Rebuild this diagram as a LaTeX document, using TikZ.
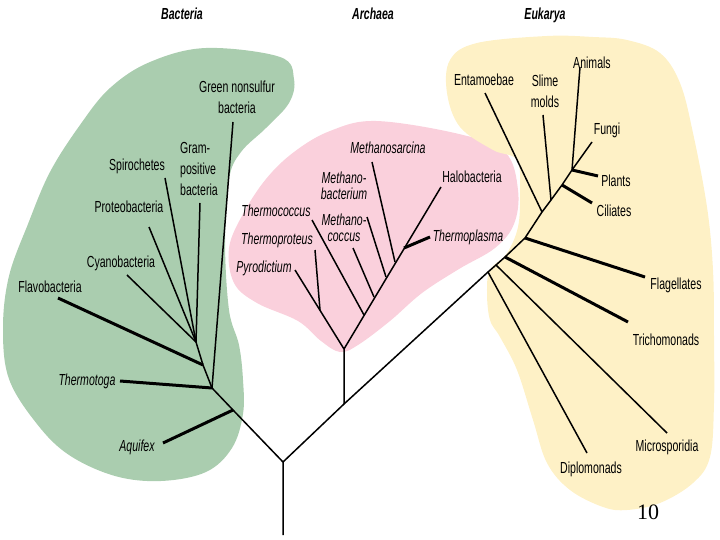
\documentclass[tikz,border=0pt]{standalone}
\usepackage{fontspec}
\setmainfont[FakeStretch=0.66]{Liberation Sans}
\newfontfamily\pagefont{Liberation Serif}
\definecolor{bacgreen}{RGB}{170,205,175}
\definecolor{arcpink}{RGB}{250,208,220}
\definecolor{eukyellow}{RGB}{254,241,198}

\begin{document}
\begin{tikzpicture}[x=1pt,y=-1pt,
    br/.style={line width=1.5pt},
    thk/.style={line width=3pt},
    lab/.style={font=\fontsize{16}{21}\selectfont,inner sep=0pt,align=center},
    itlab/.style={font=\fontsize{16}{16}\selectfont\itshape,inner sep=0pt,align=center},
    ttl/.style={font=\fontsize{16}{16}\selectfont\bfseries\itshape,inner sep=0pt}]

\useasboundingbox (0,0) rectangle (720,540);

% the three domains
\fill[bacgreen] plot[smooth cycle,tension=0.6] coordinates {(206,48) (280,57) (294,79) (289,103) (266,128) (241,152) (229,179) (225,241) (229,310) (239,345) (243,380) (243,414) (232,448) (206,472) (161,481) (115,476) (69,455) (37,424) (9,379) (3,328) (9,276) (28,224) (50,172) (80,125) (110,88) (150,62)};
\fill[arcpink] plot[smooth cycle,tension=0.6] coordinates {(376,121) (459,134) (505,152) (518,190) (514,224) (495,248) (459,269) (422,293) (390,321) (358,345) (340,352) (321,341) (298,321) (257,303) (234,283) (229,248) (243,214) (266,179) (294,152) (330,131)};
\fill[eukyellow] plot[smooth cycle,tension=0.6] coordinates {(547,36) (593,37) (627,40) (660,53) (680,83) (693,133) (707,207) (713,270) (714,337) (714,403) (710,457) (693,483) (660,503) (627,510) (603,507) (570,490) (547,463) (533,420) (517,370) (500,337) (490,320) (487,293) (490,270) (507,253) (518,227) (520,193) (517,160) (493,150) (460,127) (447,93) (450,60) (477,43)};

% titles
\node[ttl] (tbac) at (182,14) {Bacteria};
\node[ttl] (tarc) at (373,14) {Archaea};
\node[ttl] (teuk) at (545,15) {Eukarya};

% stem and inner branches
\coordinate (base) at (283,535);
\coordinate (root) at (283,462);
\coordinate (b1) at (233,410);
\coordinate (b2) at (212,388);
\coordinate (b3) at (203,365);
\coordinate (b4) at (196,342);
\coordinate (a0) at (344,404);
\coordinate (a1) at (344,349);
\coordinate (a2) at (320,310);
\coordinate (a3) at (364,315);
\coordinate (a4) at (374,297);
\coordinate (a5) at (386,277);
\coordinate (a6) at (395,262);
\coordinate (a7) at (404,248);
\coordinate (e1) at (488,272);
\coordinate (e2) at (496,265);
\coordinate (e3) at (505,257);
\coordinate (e4) at (525,238);
\coordinate (e5) at (542,212);
\coordinate (e6) at (551,200);
\coordinate (e7) at (562,185);
\coordinate (e8) at (572,170);

% branch tips
\coordinate (aquifex) at (163,443);
\coordinate (thermotoga) at (120,381);
\coordinate (flavo) at (58,298);
\coordinate (cyano) at (127,275);
\coordinate (proteo) at (149,227);
\coordinate (spiro) at (165,178);
\coordinate (gram) at (200,203);
\coordinate (greenns) at (233,122);
\coordinate (pyro) at (295,270);
\coordinate (tprot) at (315,250);
\coordinate (tcocc) at (312,220);
\coordinate (mcocc) at (353,248);
\coordinate (mbact) at (367,217);
\coordinate (msarc) at (372,162);
\coordinate (tplas) at (430,237);
\coordinate (halo) at (441,187);
\coordinate (diplo) at (587,453);
\coordinate (micro) at (667,433);
\coordinate (tricho) at (628,322);
\coordinate (flag) at (645,277);
\coordinate (entam) at (485,93);
\coordinate (slime) at (543,115);
\coordinate (cili) at (592,203);
\coordinate (anim) at (580,67);
\coordinate (plant) at (598,176);
\coordinate (fungi) at (592,142);

\draw[br] (base) -- (root) -- (b1) -- (b2) -- (b3) -- (b4);
\draw[br] (root) -- (a0) -- (e1) -- (e2) -- (e3) -- (e4) -- (e5) -- (e6) -- (e7) -- (e8) -- (fungi);
\draw[br] (a0) -- (a1) -- (pyro);
\draw[br] (a1) -- (halo);

% bacteria
\foreach \i in {cyano,proteo,spiro,gram}
    \draw[br] (\i) -- (b4);
\draw[br] (greenns) -- (b2);
\draw[thk] (flavo) -- (b3);
\draw[thk] (thermotoga) -- (b2);
\draw[thk] (aquifex) -- (b1);

% archaea
\draw[br] (tprot) -- (a2);
\draw[br] (tcocc) -- (a3);
\draw[br] (mcocc) -- (a4);
\draw[br] (mbact) -- (a5);
\draw[br] (msarc) -- (a6);
\draw[thk] (tplas) -- (a7);

% eukarya
\draw[br] (diplo) -- (e1);
\draw[br] (micro) -- (e2);
\draw[thk] (tricho) -- (e3);
\draw[thk] (flag) -- (e4);
\draw[br] (entam) -- (e5);
\draw[br] (slime) -- (e6);
\draw[thk] (cili) -- (e7);
\draw[br] (anim) -- (e8);
\draw[thk] (plant) -- (e8);

% labels
\node[lab] (lgreen) at (237,97) {Green nonsulfur\\bacteria};
\node[lab,anchor=west,align=left] (lgram) at (180,169) {Gram-\\positive\\bacteria};
\node[lab] (lspiro) at (137,166) {Spirochetes};
\node[lab] (lproteo) at (129,207) {Proteobacteria};
\node[lab] (lcyano) at (121,263) {Cyanobacteria};
\node[lab] (lflavo) at (50,287) {Flavobacteria};
\node[itlab] (ltoga) at (87,381) {Thermotoga};
\node[itlab] (laqui) at (137,447) {Aquifex};

\node[itlab] (lsarc) at (388,148) {Methanosarcina};
\node[itlab] (lbact) at (344,186) {Methano-\\bacterium};
\node[itlab] (lcocc) at (344,228) {Methano-\\coccus};
\node[itlab] (ltcoc) at (276,211) {Thermococcus};
\node[itlab] (ltpro) at (277,240) {Thermoproteus};
\node[itlab] (lpyro) at (264,268) {Pyrodictium};
\node[lab] (lhalo) at (472,177) {Halobacteria};
\node[itlab] (lplas) at (468,237) {Thermoplasma};

\node[lab] (lentam) at (484,80) {Entamoebae};
\node[lab] (lslime) at (545,91) {Slime\\molds};
\node[lab] (lanim) at (592,63) {Animals};
\node[lab] (lfungi) at (607,130) {Fungi};
\node[lab] (lplant) at (616,181) {Plants};
\node[lab] (lcili) at (614,211) {Ciliates};
\node[lab] (lflag) at (676,285) {Flagellates};
\node[lab] (ltrich) at (666,340) {Trichomonads};
\node[lab] (lmicro) at (667,447) {Microsporidia};
\node[lab] (ldiplo) at (591,469) {Diplomonads};

\node[font=\pagefont\fontsize{22}{24}\selectfont,inner sep=0pt] (pnum) at (648,512) {10};

\end{tikzpicture}
\end{document}
